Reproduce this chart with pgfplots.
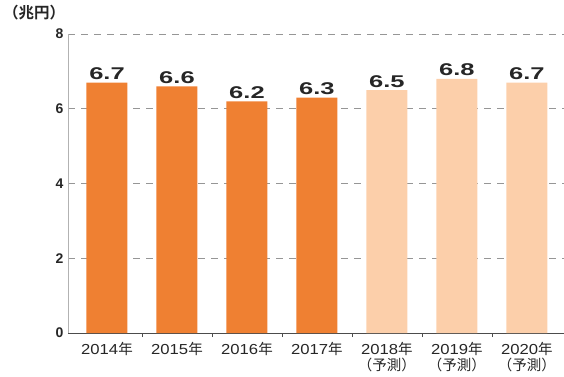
\documentclass[border=0pt]{standalone}
\usepackage{pgfplots}
\pgfplotsset{compat=1.18}
\usepackage{fontspec}
\setmainfont{Liberation Sans}
\newfontfamily\cjk{Noto Sans CJK JP}
\newfontfamily\cjkb{Noto Sans CJK JP Bold}
\definecolor{darkor}{RGB}{239,128,50}
\definecolor{lightor}{RGB}{252,207,170}
\definecolor{gridc}{RGB}{150,150,150}
\newcommand{\yr}[1]{\scalebox{1.15}[1]{#1}{\cjk 年}}
\newcommand{\yp}[1]{\scalebox{1.15}[1]{#1}{\cjk 年}\\[-1pt]{\cjk （予測）}}
\begin{document}
\begin{tikzpicture}
\useasboundingbox (-68pt,-43pt) rectangle (496pt,333pt);
\begin{axis}[
  at={(0pt,0pt)}, anchor=south west,
  scale only axis, width=496pt, height=299pt,
  xmin=-0.557, xmax=6.53, ymin=0, ymax=8,
  /pgf/number format/assume math mode=true,
  axis x line*=bottom, axis y line*=left,
  x axis line style={draw=black!70, line width=0.8pt, -},
  y axis line style={draw=black!30, line width=0.8pt, -},
  ytick={0,2,4,6,8}, yticklabels={0,2,4,6,8},
  yticklabel style={font=\fontsize{14}{14}\selectfont\bfseries, text=black!85, xshift=-1pt},
  major y tick style={draw=none},
  ymajorgrids, grid style={draw=gridc, line width=0.6pt, dash pattern=on 7pt off 6pt},
  xtick={0,...,6},
  xticklabels={\yr{2014},\yr{2015},\yr{2016},\yr{2017},\yp{2018},\yp{2019},\yp{2020}},
  xticklabel style={align=center, font=\fontsize{14.5}{17}\selectfont, text=black!85, yshift=-1pt},
  major x tick style={draw=none},
  minor xtick={0.5,1.5,2.5,3.5,4.5,5.5},
  minor x tick style={draw=black!70, line width=0.8pt},
  minor tick length=4pt, tick align=inside,
  ybar, bar width=41pt, bar shift=0pt,
  nodes near coords={\scalebox{1.5}[1]{\fontsize{17}{17}\selectfont\bfseries\pgfmathprintnumber[fixed,precision=1,fixed zerofill,assume math mode=true]{\pgfplotspointmeta}}},
  nodes near coords style={text=black!85, inner sep=2.5pt},
  clip=false,
]
\addplot[fill=darkor, draw=none] coordinates {(0,6.7) (1,6.6) (2,6.2) (3,6.3)};
\addplot[fill=lightor, draw=none] coordinates {(4,6.5) (5,6.8) (6,6.7)};
\end{axis}
\node[anchor=west, inner sep=0pt, font=\cjkb\fontsize{15.5}{15.5}\selectfont, text=black!85] at (-65pt,320pt) {（兆円）};
\end{tikzpicture}
\end{document}
